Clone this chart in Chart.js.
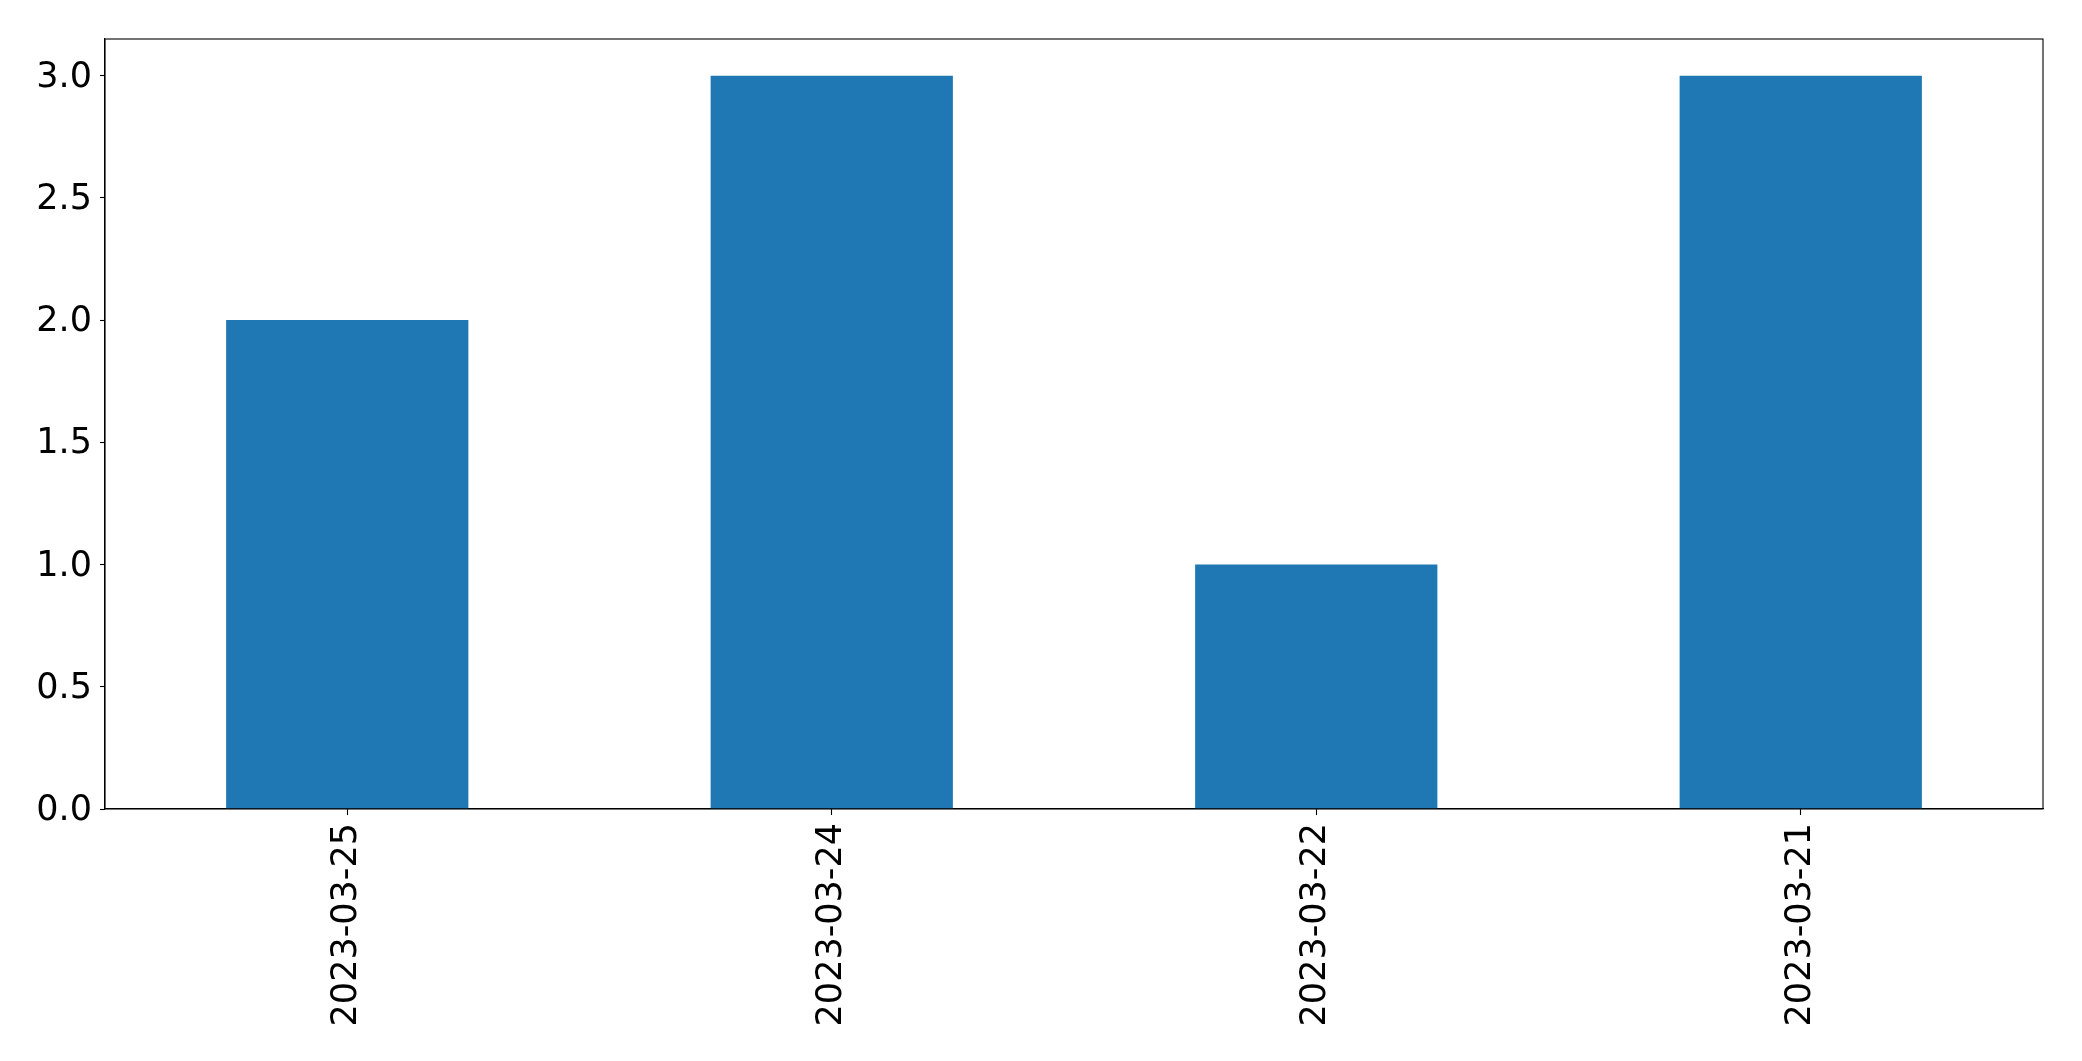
<!DOCTYPE html>
<html>
<head>
<meta charset="utf-8">
<script src="https://cdn.jsdelivr.net/npm/chart.js@4"></script>
<style>
html,body{margin:0;padding:0;background:#fff;}
#wrap{width:2082px;height:1061px;}
</style>
</head>
<body>
<div id="wrap"><canvas id="c" width="2082" height="1061"></canvas></div>
<script>
const categories = ["2023-03-25", "2023-03-24", "2023-03-22", "2023-03-21"];
const counts = [2, 3, 1, 3];
const yTicks = [0, 0.5, 1.0, 1.5, 2.0, 2.5, 3.0];

const frame = {
  id: 'frame',
  afterDraw(chart) {
    const a = chart.chartArea, ctx = chart.ctx;
    ctx.save();
    ctx.strokeStyle = '#000';
    ctx.lineWidth = 1.1;
    ctx.strokeRect(a.left, a.top, a.right - a.left, a.bottom - a.top);
    ctx.restore();
  }
};

new Chart(document.getElementById('c'), {
  type: 'bar',
  data: {
    labels: categories,
    datasets: [{
      data: counts,
      backgroundColor: '#1f77b4',
      borderWidth: 0,
      barPercentage: 0.5,
      categoryPercentage: 1.0
    }]
  },
  options: {
    responsive: false,
    animation: false,
    devicePixelRatio: 1,
    layout: { padding: { top: 39, right: 39, left: 0, bottom: 0 } },
    plugins: { legend: { display: false }, tooltip: { enabled: false } },
    scales: {
      x: {
        offset: true,
        grid: { display: true, drawOnChartArea: false, tickLength: 6, color: '#000', tickWidth: 1.1, offset: false },
        border: { display: true, color: '#000', width: 1.1 },
        ticks: {
          color: '#000',
          font: { family: 'DejaVu Sans', size: 35 },
          minRotation: 90, maxRotation: 90,
          padding: 8,
          autoSkip: false
        },
        afterFit(s) { s.height = 1061 - 809; }
      },
      y: {
        min: 0, max: 3.15,
        grid: { display: true, drawOnChartArea: false, tickLength: 5, color: '#000', tickWidth: 1.1 },
        border: { display: true, color: '#000', width: 1.1 },
        afterBuildTicks(s) { s.ticks = yTicks.map(v => ({ value: v })); },
        ticks: {
          color: '#000',
          font: { family: 'DejaVu Sans', size: 35 },
          padding: 8,
          labelOffset: 2,
          includeBounds: false,
          callback: v => Number(v).toFixed(1)
        },
        afterFit(s) { s.width = 105; }
      }
    }
  },
  plugins: [frame]
});
</script>
</body>
</html>
